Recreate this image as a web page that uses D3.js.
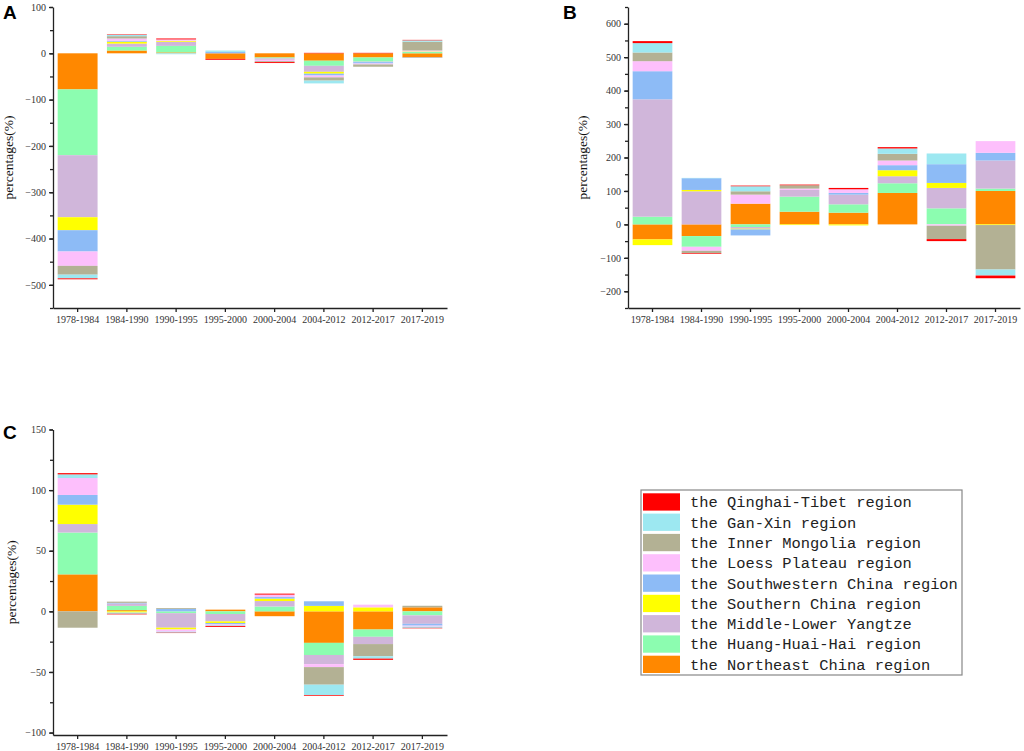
<!DOCTYPE html>
<html lang="en">
<head>
  <meta charset="UTF-8">
  <title>percentages by region</title>
  <style>
    body { margin: 0; background: #fff; }
    svg { display: block; }
    .tick text { font-family: "Liberation Serif", serif; font-size: 10px; fill: #333; }
    .domain, .tick line { stroke: #222; stroke-width: 1.3px; }
    .ylab { font-family: "Liberation Serif", serif; font-size: 13.5px; fill: #111; }
    .panel-tag { font-family: "Liberation Sans", Arial, sans-serif; font-weight: bold; font-size: 19px; fill: #000; }
    .legend text { font-family: "Liberation Mono", monospace; font-size: 15.4px; fill: #222; }
  </style>
</head>
<body>
  <script src="https://d3js.org/d3.v7.min.js"></script>
  <script>
    const periods = ["1978-1984", "1984-1990", "1990-1995", "1995-2000", "2000-2004", "2004-2012", "2012-2017", "2017-2019"];

    // stack order, from the zero line outwards
    const regions = [
      "the Northeast China region", "the Huang-Huai-Hai region", "the Middle-Lower Yangtze",
      "the Southern China region", "the Southwestern China region", "the Loess Plateau region",
      "the Inner Mongolia region", "the Gan-Xin region", "the Qinghai-Tibet region"
    ];
    const colors = ["#ff8800", "#8cfdb0", "#d0b6da", "#ffff00", "#8dbbf6", "#fdbffc", "#b3b194", "#9de8f1", "#ff0000"];

    // one row per region (same order as regions), one value per period
    const valuesA = [
      [-78, 6, 2, -12, -9, -16, -9, -9],
      [-142, 8, 14, 0, -2, -11, -9, 3],
      [-134, 7, 9, 0, -3, -13, -1, 0],
      [-28, 4, 2, 0, 0, -4, 0, 1],
      [-46, 2, 0, 3, 0, -4, -3, -1],
      [-31, 5, 3, 0, -3, -4, -2, 2],
      [-19, 5, 0, 0, -2, -7, -5, 19],
      [-8, 3, -2, 3, 0, -6, 0, 3],
      [-2, 1, 2, -2, -2, 1, 1, 1]
    ];
    const valuesB = [
      [-45, -35, 62, 38, 35, 94, 0, 100],
      [23, -32, -8, 45, 25, 29, 48, 7],
      [351, 99, -5, 20, 29, 21, 61, 84],
      [-17, 4, -2, -2, -3, 18, 15, -2],
      [84, 35, -18, 0, 5, 15, 56, 23],
      [30, -12, 27, 4, 11, 14, -4, 35],
      [26, -7, 10, 10, 0, 20, -40, -133],
      [28, 1, 15, 0, 0, 16, 32, -18],
      [6, -2, 2, 2, 4, 4, -6, -8]
    ];
    const valuesC = [
      [30.5, 1, 0, 1.4, -4, -26, -15, 3.3],
      [34.5, 3.5, -1.5, -2.2, 4, -10, -6, -3.3],
      [7, 2, -12, -6.1, 4.5, -7.5, -6, -7],
      [16, -1, -1.5, -1.3, 2, 4.5, 3.3, 0],
      [8, 0.5, 2, -1.2, 1.3, 3.8, 0, -1.5],
      [14, 0, -1.8, -0.8, 2, -2.5, 2.2, -0.8],
      [-13.5, 1, 0.7, 0, 0, -14.5, -10, 1.3],
      [3, -1, -0.8, -0.4, 0, -8.5, -2, -1],
      [1, -0.5, -0.3, -0.8, 0.8, -0.6, -1, -0.4]
    ];

    const svg = d3.select("body").append("svg").attr("width", 1024).attr("height", 751);

    const panels = [
      {tag: "A", values: valuesA, x0: 53, x1: 447, yTop: 7, yBot: 308, domain: [-550, 100],
       major: d3.range(-500, 101, 100), minor: d3.range(-550, 101, 50), tagX: 3, tagY: 19, labX: 9},
      {tag: "B", values: valuesB, x0: 628, x1: 1020, yTop: 7, yBot: 308, domain: [-250, 650],
       major: d3.range(-200, 601, 100), minor: d3.range(-250, 651, 50), tagX: 563, tagY: 19, labX: 583},
      {tag: "C", values: valuesC, x0: 53, x1: 447, yTop: 429.5, yBot: 735, domain: [-102, 150],
       major: d3.range(-100, 151, 50), minor: d3.range(-100, 151, 25), tagX: 3, tagY: 439, labX: 12}
    ];

    panels.forEach(p => {
      const g = svg.append("g");
      const x = d3.scaleBand().domain(periods).range([p.x0, p.x1]).paddingInner(0.19).paddingOuter(0.095);
      const y = d3.scaleLinear().domain(p.domain).range([p.yBot, p.yTop]);

      const rows = periods.map((per, j) => {
        const r = {period: per};
        regions.forEach((reg, i) => { r[reg] = p.values[i][j]; });
        return r;
      });
      const series = d3.stack().keys(regions).offset(d3.stackOffsetDiverging)(rows);

      g.selectAll("g.layer").data(series).join("g")
        .attr("class", "layer")
        .attr("fill", (d, i) => colors[i])
        .selectAll("rect").data(d => d).join("rect")
        .attr("x", d => x(d.data.period))
        .attr("width", x.bandwidth())
        .attr("y", d => y(Math.max(d[0], d[1])))
        .attr("height", d => Math.abs(y(d[0]) - y(d[1])));

      // minor ticks
      g.append("g").attr("transform", `translate(${p.x0},0)`)
        .call(d3.axisLeft(y).tickValues(p.minor).tickSize(3).tickFormat(""))
        .call(a => a.select(".domain").remove());
      // major ticks + axis line
      g.append("g").attr("transform", `translate(${p.x0},0)`)
        .call(d3.axisLeft(y).tickValues(p.major).tickSize(4).tickSizeOuter(0).tickPadding(3).tickFormat(d3.format("d")));

      g.append("g").attr("transform", `translate(0,${p.yBot})`)
        .call(d3.axisBottom(x).tickSize(4).tickSizeOuter(0).tickPadding(4));

      g.append("text").attr("class", "ylab")
        .attr("transform", `translate(${p.labX + 4},${(p.yTop + p.yBot) / 2}) rotate(-90)`)
        .attr("text-anchor", "middle")
        .text("percentages(%)");

      g.append("text").attr("class", "panel-tag").attr("x", p.tagX).attr("y", p.tagY).text(p.tag);
    });

    // legend, top entry is the last stacked region
    const legend = svg.append("g").attr("class", "legend");
    legend.append("rect").attr("x", 641).attr("y", 490).attr("width", 321).attr("height", 185)
      .attr("fill", "#fff").attr("stroke", "#888").attr("stroke-width", 1.2);
    const legendItems = regions.map((r, i) => ({name: r, color: colors[i]})).reverse();
    const row = legend.selectAll("g.item").data(legendItems).join("g")
      .attr("class", "item")
      .attr("transform", (d, i) => `translate(643,${493.3 + i * 20.3})`);
    row.append("rect").attr("width", 37).attr("height", 17.3).attr("fill", d => d.color);
    row.append("text").attr("x", 47).attr("y", 14).text(d => d.name);
  </script>
</body>
</html>
